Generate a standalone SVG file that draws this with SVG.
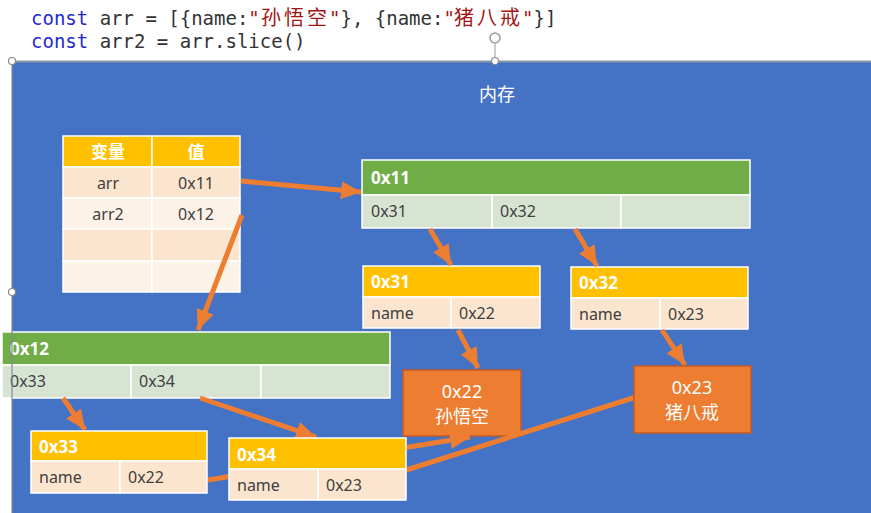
<svg xmlns="http://www.w3.org/2000/svg" width="871" height="513" viewBox="0 0 871 513">
<style>
.code{font-family:"DejaVu Sans Mono","Liberation Mono","Noto Sans CJK SC",monospace;font-size:19px;fill:#333}
.kw{fill:#1f2ad4}
.str{fill:#a31515}
.cjk{font-family:"Noto Sans CJK SC",sans-serif;font-size:20px}
.t{font-family:"Noto Sans","Noto Sans CJK SC",sans-serif;font-size:16px;fill:#404040}
.h{font-family:"Noto Sans","Noto Sans CJK SC",sans-serif;font-size:17px;font-weight:bold;fill:#fff}
.w{font-family:"Noto Sans","Noto Sans CJK SC",sans-serif;font-size:18px;fill:#fff}
.yel{fill:#ffc000}
.grn{fill:#70ad47}
.lg{fill:#d8e4d2}
.pe{fill:#fce5cf}
.pe2{fill:#fdf2e7}
.cell{stroke:#fff;stroke-width:1.5}
.or{fill:#ed7d31;stroke:#c55a24;stroke-width:1.5}
.arr{stroke:#ed7d31;stroke-width:5;fill:none}
.hdl{fill:#fff;stroke:#8a8a8a;stroke-width:1.2}
</style>
<defs>
<marker id="ah" markerUnits="userSpaceOnUse" markerWidth="22" markerHeight="22" viewBox="0 0 22 22" refX="20" refY="11" orient="auto">
<path d="M0,2 L20,11 L0,20 Z" fill="#ed7d31"/>
</marker>
</defs>
<rect width="871" height="513" fill="#fff"/>
<g id="code">
<text class="code" x="31" y="25"><tspan class="kw">const</tspan> arr = [{name:<tspan class="str">"</tspan></text>
<text class="code cjk str" x="261" y="25" textLength="66" lengthAdjust="spacing">孙悟空</text>
<text class="code" x="329" y="25"><tspan class="str">"</tspan>}, {name:<tspan class="str">"</tspan></text>
<text class="code cjk str" x="454" y="25" textLength="66" lengthAdjust="spacing">猪八戒</text>
<text class="code" x="522" y="25"><tspan class="str">"</tspan>}]</text>
<text class="code" x="31" y="48"><tspan class="kw">const</tspan> arr2 = arr.slice()</text>
</g>
<g id="memory">
<rect x="12" y="61" width="859" height="452" fill="#4472c4"/>
<text class="w" x="497" y="101" text-anchor="middle">内存</text>
</g>
<g id="var-table">
<rect class="yel cell" x="63" y="136" width="89" height="31"/>
<rect class="yel cell" x="152" y="136" width="88" height="31"/>
<rect class="pe cell" x="63" y="167" width="89" height="31"/>
<rect class="pe cell" x="152" y="167" width="88" height="31"/>
<rect class="pe2 cell" x="63" y="198" width="89" height="31"/>
<rect class="pe2 cell" x="152" y="198" width="88" height="31"/>
<rect class="pe cell" x="63" y="229" width="89" height="32"/>
<rect class="pe cell" x="152" y="229" width="88" height="32"/>
<rect class="pe2 cell" x="63" y="261" width="89" height="31"/>
<rect class="pe2 cell" x="152" y="261" width="88" height="31"/>
<text class="h" x="108" y="158" text-anchor="middle">变量</text>
<text class="h" x="196" y="158" text-anchor="middle">值</text>
<text class="t" x="108" y="189" text-anchor="middle">arr</text>
<text class="t" x="196" y="189" text-anchor="middle">0x11</text>
<text class="t" x="108" y="220" text-anchor="middle">arr2</text>
<text class="t" x="196" y="220" text-anchor="middle">0x12</text>
</g>
<g id="obj-0x11">
<rect class="grn cell" x="362" y="160" width="388" height="35"/>
<rect class="lg cell" x="362" y="195" width="130" height="33"/>
<rect class="lg cell" x="492" y="195" width="129" height="33"/>
<rect class="lg cell" x="621" y="195" width="129" height="33"/>
<text class="h" x="371" y="184">0x11</text>
<text class="t" x="371" y="217">0x31</text>
<text class="t" x="500" y="217">0x32</text>
</g>
<g id="obj-0x31">
<rect class="yel cell" x="363" y="266" width="177" height="31"/>
<rect class="pe cell" x="363" y="297" width="88" height="31"/>
<rect class="pe cell" x="451" y="297" width="89" height="31"/>
<text class="h" x="371" y="288">0x31</text>
<text class="t" x="371" y="319">name</text>
<text class="t" x="459" y="319">0x22</text>
</g>
<g id="obj-0x32">
<rect class="yel cell" x="571" y="267" width="177" height="31"/>
<rect class="pe cell" x="571" y="298" width="89" height="31"/>
<rect class="pe cell" x="660" y="298" width="88" height="31"/>
<text class="h" x="579" y="289">0x32</text>
<text class="t" x="579" y="320">name</text>
<text class="t" x="668" y="320">0x23</text>
</g>
<g id="obj-0x12">
<rect class="grn cell" x="2" y="332" width="388" height="33"/>
<rect class="lg cell" x="2" y="365" width="129" height="33"/>
<rect class="lg cell" x="131" y="365" width="130" height="33"/>
<rect class="lg cell" x="261" y="365" width="129" height="33"/>
<text class="h" x="10" y="355">0x12</text>
<text class="t" x="10" y="387">0x33</text>
<text class="t" x="139" y="387">0x34</text>
</g>
<g id="str-0x22">
<rect class="or" x="403" y="370" width="118" height="66"/>
<text class="w" x="462" y="398" text-anchor="middle">0x22</text>
<text class="w" x="462" y="423" text-anchor="middle">孙悟空</text>
</g>
<g id="connectors">
<line class="arr" x1="241" y1="181" x2="361" y2="192" marker-end="url(#ah)"/>
<line class="arr" x1="242" y1="215" x2="198" y2="330" marker-end="url(#ah)"/>
<line class="arr" x1="430" y1="229" x2="451" y2="265" marker-end="url(#ah)"/>
<line class="arr" x1="575" y1="229" x2="597" y2="266" marker-end="url(#ah)"/>
<line class="arr" x1="458" y1="330" x2="478" y2="368" marker-end="url(#ah)"/>
<line class="arr" x1="662" y1="330" x2="685" y2="365" marker-end="url(#ah)"/>
<line class="arr" x1="63" y1="398" x2="85" y2="430" marker-end="url(#ah)"/>
<line class="arr" x1="200" y1="398" x2="316" y2="437" marker-end="url(#ah)"/>
<line class="arr" x1="208" y1="480" x2="470" y2="437" marker-end="url(#ah)"/>
<line class="arr" x1="400" y1="472" x2="636" y2="397"/>
</g>
<g id="obj-0x33">
<rect class="yel cell" x="31" y="431" width="176" height="30"/>
<rect class="pe cell" x="31" y="461" width="89" height="32"/>
<rect class="pe cell" x="120" y="461" width="87" height="32"/>
<text class="h" x="39" y="453">0x33</text>
<text class="t" x="39" y="483">name</text>
<text class="t" x="128" y="483">0x22</text>
</g>
<g id="obj-0x34">
<rect class="yel cell" x="229" y="438" width="177" height="31"/>
<rect class="pe cell" x="229" y="469" width="89" height="31"/>
<rect class="pe cell" x="318" y="469" width="88" height="31"/>
<text class="h" x="237" y="461">0x34</text>
<text class="t" x="237" y="491">name</text>
<text class="t" x="326" y="491">0x23</text>
</g>
<g id="str-0x23">
<rect class="or" x="634" y="366" width="117" height="67"/>
<text class="w" x="692" y="394" text-anchor="middle">0x23</text>
<text class="w" x="692" y="419" text-anchor="middle">猪八戒</text>
</g>
<g id="selection">
<line x1="12" y1="61.5" x2="871" y2="61.5" stroke="#8d96a8" stroke-width="2"/>
<line x1="12" y1="61" x2="12" y2="513" stroke="#7d8aa3" stroke-width="1.2"/>
<line x1="495" y1="44" x2="495" y2="61" stroke="#9a9a9a" stroke-width="1"/>
<circle cx="495" cy="38" r="5" fill="none" stroke="#9a9a9a" stroke-width="1.5"/>
<circle class="hdl" cx="12" cy="61" r="3.5"/>
<circle class="hdl" cx="12" cy="292" r="3.5"/>
<circle class="hdl" cx="495" cy="61" r="3.5"/>
</g>
</svg>
